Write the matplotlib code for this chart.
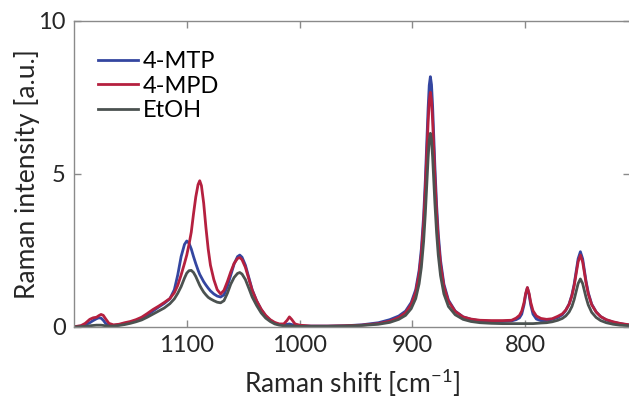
import numpy as np
import matplotlib
matplotlib.use("Agg")
import matplotlib.pyplot as plt

# Raman shift grid [cm^-1] (descending)
shift = [
    1200, 1194, 1190, 1186, 1183, 1180, 1178, 1176, 1174, 1172, 1169, 1165, 1160, 1155, 1150, 1145, 1140, 1135, 1130,
    1125, 1120, 1115, 1111, 1108, 1105, 1102, 1100, 1098, 1096, 1094, 1092, 1090, 1088.5, 1087, 1085, 1083, 1081,
    1079, 1076, 1073, 1070, 1067, 1064, 1061, 1058, 1055, 1053, 1051, 1048, 1045, 1042, 1038, 1034, 1030, 1026,
    1022, 1018, 1014, 1011, 1009, 1007, 1004, 1000,
    990, 975, 960, 945, 930, 920, 912, 906, 901, 897, 894, 892, 890, 888.5, 887, 886, 885, 884, 883, 882, 881, 880,
    878.5, 877, 875, 872, 868, 862, 855, 848, 840, 830, 820, 812,
    808, 805, 803, 801, 799.5, 798, 796.5, 795, 793, 790, 786, 781, 776, 771, 767, 764, 761, 758.5, 756.5, 754.5,
    753, 751, 749, 747.5, 746, 744, 741, 737, 733, 728, 722, 716, 711, 707,
]

mtp = [
    0.01, 0.03, 0.07, 0.14, 0.21, 0.27, 0.30, 0.29, 0.22, 0.12, 0.05, 0.05, 0.07, 0.11, 0.15, 0.20, 0.28, 0.39, 0.52,
    0.65, 0.77, 0.92, 1.22, 1.70, 2.30, 2.70, 2.81, 2.74, 2.55, 2.30, 2.07, 1.86, 1.72, 1.62, 1.48, 1.37, 1.27,
    1.18, 1.08, 1.01, 0.98, 1.05, 1.33, 1.70, 2.06, 2.30, 2.35, 2.28, 2.02, 1.62, 1.22, 0.85, 0.57, 0.36, 0.22,
    0.13, 0.08, 0.07, 0.09, 0.10, 0.08, 0.05, 0.04,
    0.03, 0.03, 0.04, 0.07, 0.14, 0.24, 0.36, 0.52, 0.80, 1.22, 1.85, 2.55, 3.62, 4.78, 6.20, 7.15, 7.90, 8.18, 7.92,
    7.20, 6.25, 5.25, 4.00, 3.05, 2.18, 1.40, 0.88, 0.52, 0.33, 0.25, 0.20, 0.18, 0.18, 0.20,
    0.24, 0.30, 0.42, 0.72, 1.06, 1.28, 1.06, 0.72, 0.42, 0.26, 0.21, 0.21, 0.25, 0.31, 0.40, 0.54, 0.75, 1.05,
    1.40, 1.87, 2.23, 2.46, 2.23, 1.87, 1.50, 1.12, 0.75, 0.49, 0.34, 0.23, 0.16, 0.11, 0.08, 0.06,
]

mpd = [
    0.01, 0.04, 0.12, 0.25, 0.30, 0.32, 0.37, 0.41, 0.38, 0.27, 0.12, 0.07, 0.09, 0.14, 0.18, 0.24, 0.32, 0.44, 0.57,
    0.68, 0.80, 0.93, 1.12, 1.36, 1.70, 2.08, 2.35, 2.70, 3.10, 3.70, 4.25, 4.65, 4.78, 4.62, 4.05, 3.25, 2.55,
    2.02, 1.55, 1.22, 1.08, 1.20, 1.48, 1.80, 2.08, 2.24, 2.27, 2.20, 1.95, 1.58, 1.20, 0.85, 0.58, 0.38, 0.24,
    0.15, 0.10, 0.10, 0.22, 0.33, 0.25, 0.10, 0.06,
    0.03, 0.03, 0.04, 0.06, 0.11, 0.19, 0.31, 0.47, 0.74, 1.14, 1.73, 2.38, 3.38, 4.47, 5.80, 6.69, 7.39, 7.67, 7.41,
    6.73, 5.84, 4.91, 3.74, 2.85, 2.04, 1.32, 0.84, 0.51, 0.33, 0.26, 0.22, 0.21, 0.21, 0.22,
    0.29, 0.38, 0.52, 0.79, 1.10, 1.29, 1.10, 0.80, 0.53, 0.36, 0.28, 0.25, 0.27, 0.35, 0.43, 0.55, 0.74, 1.02,
    1.35, 1.80, 2.13, 2.35, 2.13, 1.80, 1.45, 1.08, 0.73, 0.49, 0.34, 0.24, 0.17, 0.12, 0.09, 0.07,
]

etoh = [
    0.00, 0.01, 0.02, 0.04, 0.05, 0.06, 0.06, 0.06, 0.05, 0.04, 0.03, 0.03, 0.05, 0.08, 0.12, 0.17, 0.23, 0.32, 0.42,
    0.52, 0.62, 0.76, 0.92, 1.10, 1.32, 1.60, 1.76, 1.84, 1.85, 1.78, 1.65, 1.48, 1.36, 1.26, 1.14, 1.05, 0.97,
    0.92, 0.86, 0.81, 0.79, 0.86, 1.10, 1.40, 1.62, 1.75, 1.78, 1.73, 1.55, 1.27, 0.98, 0.70, 0.46, 0.29, 0.18,
    0.10, 0.06, 0.04, 0.04, 0.04, 0.03, 0.03, 0.02,
    0.02, 0.02, 0.03, 0.05, 0.09, 0.15, 0.25, 0.38, 0.60, 0.93, 1.41, 1.95, 2.79, 3.69, 4.79, 5.52, 6.10, 6.33, 6.12,
    5.55, 4.82, 4.05, 3.09, 2.35, 1.68, 1.08, 0.67, 0.40, 0.25, 0.18, 0.14, 0.12, 0.11, 0.11,
    0.11, 0.11, 0.11, 0.11, 0.11, 0.11, 0.11, 0.11, 0.11, 0.12, 0.13, 0.14, 0.17, 0.22, 0.28, 0.36, 0.49, 0.67,
    0.90, 1.20, 1.42, 1.57, 1.42, 1.20, 0.97, 0.72, 0.48, 0.31, 0.21, 0.14, 0.09, 0.06, 0.05, 0.04,
]

labels = ["4-MTP", "4-MPD", "EtOH"]
colors = ["#3446a0", "#b5203f", "#4b5250"]

plt.rcParams["font.family"] = ["Lato", "DejaVu Sans"]
plt.rcParams["mathtext.fontset"] = "custom"
plt.rcParams["mathtext.rm"] = "Lato"

fig = plt.figure(figsize=(6.29, 4.03), dpi=100)
ax = fig.add_axes([0.1176, 0.1886, 0.8840, 0.7593])

for ys, lab, c in zip([mtp, mpd, etoh], labels, colors):
    ax.plot(shift, ys, color=c, lw=2.0, label=lab)

ax.set_xlim(1200, 707)
ax.set_ylim(0, 10)
ax.set_xticks([1100, 1000, 900, 800])
ax.set_yticks([0, 5, 10])

for s in ax.spines.values():
    s.set_color("#8a8a8a")
    s.set_linewidth(1.0)
ax.tick_params(direction="in", length=5, width=1, color="#8a8a8a",
               labelsize=17, labelcolor="#262626", top=True, right=True, pad=6)

ax.set_xlabel("Raman shift [cm$^{\\mathrm{-1}}$]", fontsize=19, color="#262626", labelpad=7)
ax.set_ylabel("Raman intensity [a.u.]", fontsize=19, color="#262626", labelpad=-1)

ax.legend(loc="upper left", frameon=False, fontsize=17, handlelength=1.7,
          handletextpad=0.2, labelspacing=0.15, borderpad=0, borderaxespad=0,
          bbox_to_anchor=(0.043, 0.902))

fig.savefig("out.png", dpi=100)
